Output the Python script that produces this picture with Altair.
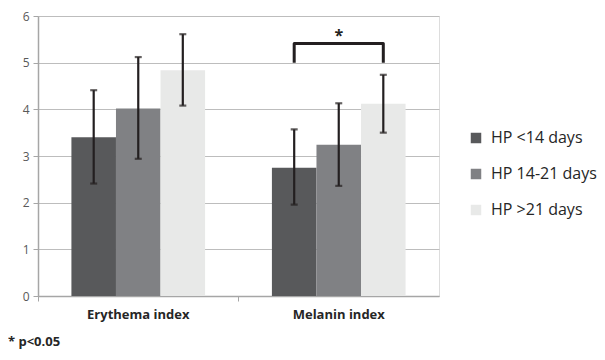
import altair as alt
import pandas as pd

categories = ["Erythema index", "Melanin index"]
groups = ["HP <14 days", "HP 14-21 days", "HP >21 days"]
means = [[3.40, 4.02, 4.84], [2.75, 3.24, 4.12]]
err_lo = [[2.41, 2.94, 4.08], [1.96, 2.36, 3.50]]
err_hi = [[4.41, 5.12, 5.61], [3.57, 4.13, 4.74]]
colors = ["#58595b", "#808184", "#e8e9e8"]

rows = []
for ci, c in enumerate(categories):
    for gi, g in enumerate(groups):
        rows.append(dict(cat=c, grp=g, mean=means[ci][gi], lo=err_lo[ci][gi], hi=err_hi[ci][gi]))
df = pd.DataFrame(rows)

bracket_x = ["HP <14 days", "HP <14 days", "HP >21 days", "HP >21 days"]
bracket_y = [5.0, 5.41, 5.41, 5.0]
bracket = pd.DataFrame(dict(cat=["Melanin index"] * 4, grp=bracket_x, y=bracket_y, o=[0, 1, 2, 3]))
star = pd.DataFrame(dict(cat=["Melanin index"], grp=["HP 14-21 days"], y=[5.58], t=["*"]))

FONT = "Open Sans"

xenc = alt.X("cat:N", sort=categories, title=None,
             scale=alt.Scale(paddingInner=0, paddingOuter=0),
             axis=alt.Axis(labelAngle=0, labelFontWeight="bold", labelFontSize=13,
                           labelColor="#262626", labelPadding=7, bandPosition=0,
                           tickColor="#a6a6a6", tickSize=5, domainColor="#a6a6a6",
                           domainWidth=1.5, labelFont=FONT))
xoff = alt.XOffset("grp:N", sort=groups, scale=alt.Scale(paddingOuter=0.75, paddingInner=0))
yscale = alt.Scale(domain=[0, 6])

bars = alt.Chart(df).mark_bar().encode(
    x=xenc, xOffset=xoff,
    y=alt.Y("mean:Q", scale=yscale, title=None,
            axis=alt.Axis(values=[0, 1, 2, 3, 4, 5, 6], labelFontSize=12, labelColor="#595959",
                          gridColor="#bdbdbd", gridWidth=1.2, tickColor="#a6a6a6", tickSize=5,
                          domainColor="#a6a6a6", domainWidth=1.5, labelPadding=4, labelFont=FONT)),
    color=alt.Color("grp:N", sort=groups, scale=alt.Scale(domain=groups, range=colors),
                    legend=alt.Legend(title=None, orient="none", legendX=430, legendY=114,
                                      symbolType="square", symbolSize=110, symbolStrokeWidth=0,
                                      labelFontSize=16, labelColor="#262626", rowPadding=20,
                                      labelOffset=7, labelFont=FONT, symbolOpacity=1,
                                      labelLimit=200)),
)

rules = alt.Chart(df).mark_rule(color="#231f20", strokeWidth=2.2).encode(
    x=alt.X("cat:N", sort=categories), xOffset=xoff, y="lo:Q", y2="hi:Q")
caps_hi = alt.Chart(df).mark_tick(color="#231f20", thickness=2.2, size=7).encode(
    x=alt.X("cat:N", sort=categories), xOffset=xoff, y="hi:Q")
caps_lo = alt.Chart(df).mark_tick(color="#231f20", thickness=2.2, size=7).encode(
    x=alt.X("cat:N", sort=categories), xOffset=xoff, y="lo:Q")

br = alt.Chart(bracket).mark_line(color="#231f20", strokeWidth=3, strokeJoin="round").encode(
    x=alt.X("cat:N", sort=categories), xOffset=alt.XOffset("grp:N", sort=groups), y="y:Q",
    order="o:Q")
st = alt.Chart(star).mark_text(fontSize=16, fontWeight="bold", color="#231f20", font=FONT).encode(
    x=alt.X("cat:N", sort=categories), xOffset=alt.XOffset("grp:N", sort=groups), y="y:Q", text="t:N")

foot = alt.Chart(pd.DataFrame(dict(t=["* p<0.05"]))).mark_text(
    align="left", baseline="middle", fontSize=13, fontWeight="bold", color="#262626", font=FONT
).encode(x=alt.value(-30), y=alt.value(326), text="t:N")

chart = alt.layer(bars, rules, caps_hi, caps_lo, br, st, foot).properties(
    width=401, height=280,
    autosize=alt.AutoSizeParams(type="none"),
    padding={"left": 30, "top": 8, "right": 158, "bottom": 56},
).configure_view(stroke=None).configure(font=FONT)

chart.save("out.html", embed_options={"renderer": "svg", "actions": False})
